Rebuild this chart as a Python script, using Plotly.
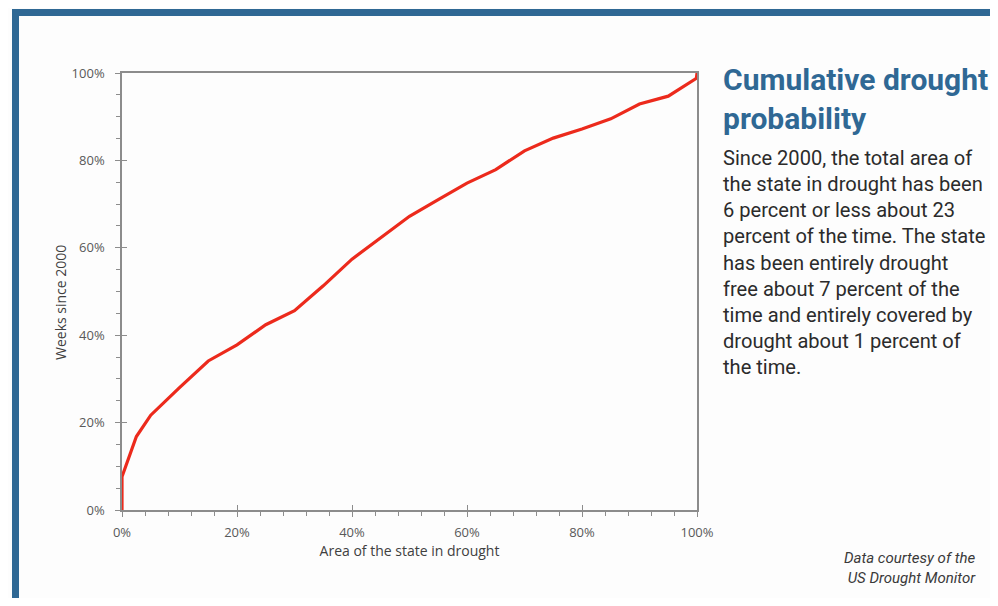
import plotly.graph_objects as go

# Data (percent)
area_pct = [0, 0, 2.5, 5, 10, 15, 20, 25, 30, 35, 40, 45, 50, 55, 60, 65, 70, 75, 80, 85, 90, 95, 99.9, 100]
weeks_pct = [0, 7.6, 16.8, 21.7, 28.0, 34.1, 37.8, 42.4, 45.6, 51.3, 57.4, 62.4, 67.2, 71.0, 74.8, 77.9, 82.2, 85.1, 87.2, 89.5, 92.9, 94.7, 98.8, 100]

x_ticks = [0, 20, 40, 60, 80, 100]
x_tick_labels = ["0%", "20%", "40%", "60%", "80%", "100%"]
y_ticks = [0, 20, 40, 60, 80, 100]
y_tick_labels = ["0%", "20%", "40%", "60%", "80%", "100%"]

x_title = "Area of the state in drought"
y_title = "Weeks since 2000"
title_text = "Cumulative drought<br>probability"
body_text = ("Since 2000, the total area of<br>the state in drought has been<br>"
             "6 percent or less about 23<br>percent of the time. The state<br>"
             "has been entirely drought<br>free about 7 percent of the<br>"
             "time and entirely covered by<br>drought about 1 percent of<br>the time.")
source_text = "<i>Data courtesy of the<br>US Drought Monitor</i>"

OFF = 8  # page body margin
W, H = 998 - OFF * 2, 606 - OFF * 2
# plot area in screen (reference) pixels
L, R, T, B = 122, 697, 73, 510


def px(x):
    return (x - L) / (R - L)


def py(y):
    return (B - y) / (B - T)


AX = "#8c8c8c"
TICKFONT = dict(family="Open Sans, Liberation Sans, sans-serif", size=13, color="#595959")
TITLEFONT = dict(family="Open Sans, Liberation Sans, sans-serif", size=14, color="#404040")

fig = go.Figure()
fig.add_trace(go.Scatter(x=area_pct, y=weeks_pct, mode="lines",
                         line=dict(color="#ec2a1c", width=3.2), showlegend=False,
                         hoverinfo="skip"))
fig.add_trace(go.Scatter(x=[0, 100], y=[0, 100], mode="lines", xaxis="x2", yaxis="y2",
                         line=dict(width=0), showlegend=False, hoverinfo="skip"))

fig.update_layout(
    width=W, height=H,
    margin=dict(l=L - OFF, r=W - (R - OFF), t=T - OFF, b=H - (B - OFF)),
    paper_bgcolor="#fdfdfd", plot_bgcolor="#fdfdfd",
    xaxis=dict(range=[0, 100], tickvals=x_ticks, ticktext=x_tick_labels,
               showgrid=False, zeroline=False, showline=True, linecolor=AX, linewidth=1.5,
               mirror=True, ticks="outside", ticklen=5, tickwidth=1.2, tickcolor=AX,
               minor=dict(dtick=4, ticks="outside", ticklen=4, tickcolor=AX, tickwidth=1, showgrid=False),
               tickfont=TICKFONT, ticklabelstandoff=5,
               title=dict(text=x_title, standoff=5, font=TITLEFONT)),
    yaxis=dict(range=[0, 100], tickvals=y_ticks, ticktext=y_tick_labels,
               showgrid=False, zeroline=False, showline=True, linecolor=AX, linewidth=1.5,
               mirror=True, ticks="outside", ticklen=5, tickwidth=1.2, tickcolor=AX,
               minor=dict(dtick=5, ticks="outside", ticklen=4, tickcolor=AX, tickwidth=1, showgrid=False),
               tickfont=TICKFONT, ticklabelstandoff=8),
    xaxis2=dict(range=[0, 100], overlaying="x", tickvals=x_ticks, showticklabels=False,
                ticks="inside", ticklen=5, tickwidth=1.2, tickcolor=AX, showgrid=False,
                zeroline=False, showline=False),
    yaxis2=dict(range=[0, 100], overlaying="y", tickvals=y_ticks, showticklabels=False,
                ticks="inside", ticklen=5, tickwidth=1.2, tickcolor=AX, showgrid=False,
                zeroline=False, showline=False),
)

FRAME = "#2f6894"
fig.add_shape(type="rect", xref="paper", yref="paper",
              x0=px(12), x1=px(1010), y0=py(16), y1=py(9),
              fillcolor=FRAME, line=dict(width=0), layer="above")
fig.add_shape(type="rect", xref="paper", yref="paper",
              x0=px(12), x1=px(19), y0=py(620), y1=py(9),
              fillcolor=FRAME, line=dict(width=0), layer="above")

fig.add_annotation(x=px(60), y=py(303), xref="paper", yref="paper", xanchor="center", yanchor="middle",
                   text=y_title, textangle=-90, showarrow=False, font=TITLEFONT)
fig.add_annotation(x=px(721), y=py(60), xref="paper", yref="paper", xanchor="left", yanchor="top",
                   text=title_text, showarrow=False, align="left",
                   font=dict(family="Roboto", size=30, color="#2f6894", weight="bold"))
fig.add_annotation(x=px(721), y=py(144), xref="paper", yref="paper", xanchor="left", yanchor="top",
                   text=body_text, showarrow=False, align="left",
                   font=dict(family="Roboto", size=20.1, color="#2b2b2b"))
fig.add_annotation(x=px(978), y=py(547), xref="paper", yref="paper", xanchor="right", yanchor="top",
                   text=source_text, showarrow=False, align="right",
                   font=dict(family="Roboto", size=15, color="#3a3a3a"))

fig.write_html("out.html")
